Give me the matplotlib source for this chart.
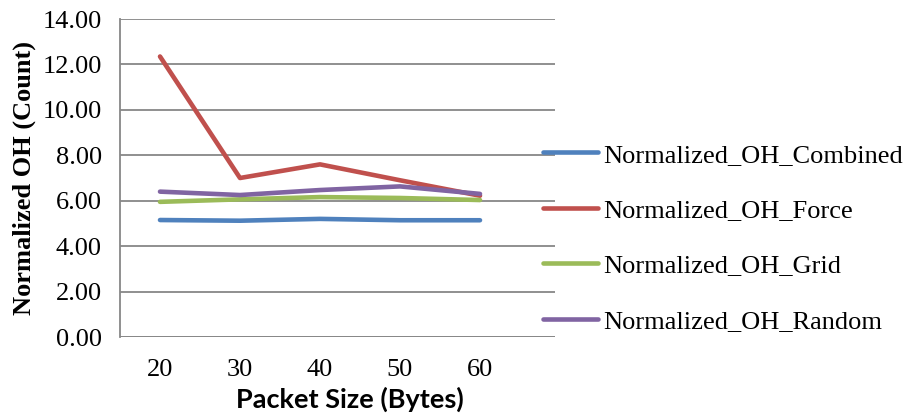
import matplotlib.pyplot as plt
from matplotlib.lines import Line2D

# datos
tamanos = [20, 30, 40, 50, 60]
combined = [5.15, 5.12, 5.20, 5.14, 5.14]
force = [12.35, 7.00, 7.60, 6.90, 6.22]
grid = [5.95, 6.06, 6.16, 6.12, 6.03]
random_ = [6.40, 6.25, 6.47, 6.63, 6.30]
nombres = ['Normalized_OH_Combined', 'Normalized_OH_Force',
           'Normalized_OH_Grid', 'Normalized_OH_Random']
colores = ['#4F81BD', '#C0504D', '#9BBB59', '#8064A2']
yticks = [0, 2, 4, 6, 8, 10, 12, 14]

fig = plt.figure(figsize=(9.07, 4.20), dpi=100)
W, H = 907, 420
ax = fig.add_axes([120 / W, 1 - 337 / H, (555 - 120) / W, (337 - 19) / H])

series = [combined, force, grid, random_]
for vals, col, nom in zip(series, colores, nombres):
    ax.plot(tamanos, vals, color=col, lw=3.3, solid_capstyle='round',
            solid_joinstyle='round', label=nom, zorder=3)

ax.set_xlim(15, 15 + 435 / 8)
ax.set_ylim(0, 14)
ax.set_yticks(yticks)
ax.set_yticklabels(['%.2f' % v for v in yticks])
ax.set_xticks(tamanos)
ax.grid(axis='y', color='#878787', lw=1.3, zorder=0)
for s in ['top', 'right', 'bottom']:
    ax.spines[s].set_visible(False)
ax.spines['left'].set_color('#878787')
ax.spines['left'].set_linewidth(1.3)
ax.axhline(0, color='#878787', lw=1.3, zorder=1)
ax.tick_params(length=0, labelsize=19)
ax.tick_params(axis='y', pad=13)
ax.tick_params(axis='x', pad=16)
for t in ax.get_xticklabels() + ax.get_yticklabels():
    t.set_fontfamily('Liberation Serif')

ax.set_ylabel('Normalized OH (Count)', fontfamily='Liberation Serif',
              fontweight='bold', fontsize=19, labelpad=5)
ax.set_xlabel('Packet Size (Bytes)', fontfamily='Lato', fontweight='bold',
              fontsize=19.5)
ax.xaxis.set_label_coords((350 - 120) / 435, -0.155)

# leyenda a la derecha
manejadores = [Line2D([], [], color=c, lw=3.3, solid_capstyle='round') for c in colores]
fig.legend(manejadores, nombres, loc='center left',
           bbox_to_anchor=(543 / W, 1 - 238 / H), frameon=False,
           prop={'family': 'Liberation Serif', 'size': 19},
           handlelength=2.1, handletextpad=0.2, labelspacing=1.21,
           borderaxespad=0, borderpad=0)

fig.savefig('out.png', dpi=100)
